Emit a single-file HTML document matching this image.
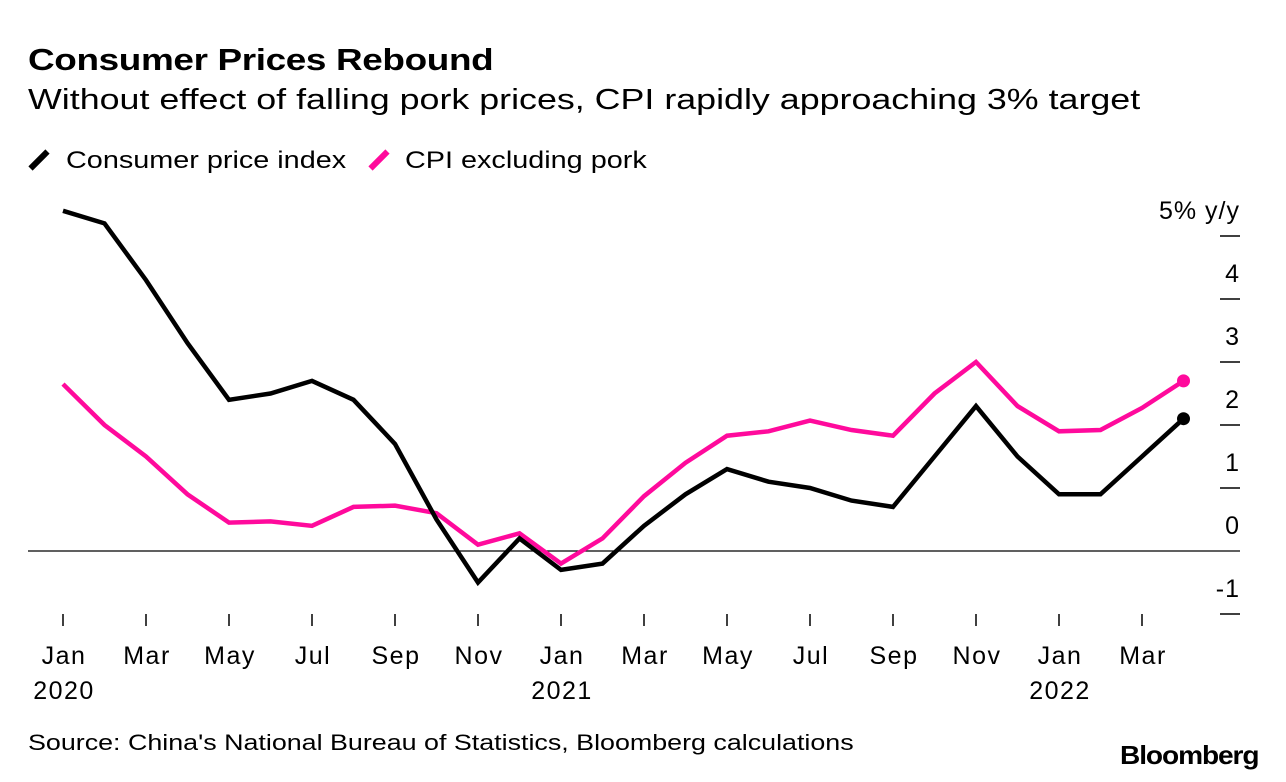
<!DOCTYPE html>
<html><head><meta charset="utf-8"><style>
html,body{margin:0;padding:0;background:#fff;}
body{width:1286px;height:782px;overflow:hidden;font-family:"Liberation Sans",sans-serif;color:#000;position:relative;}
.t{position:absolute;white-space:nowrap;transform-origin:0 0;}
</style></head><body>
<div class="t" style="left:28px;top:42px;font-size:31px;font-weight:bold;letter-spacing:-0.3px;transform:scaleX(1.19)">Consumer Prices Rebound</div>
<div class="t" style="left:28px;top:84px;font-size:29px;transform:scaleX(1.235)">Without effect of falling pork prices, CPI rapidly approaching 3% target</div>
<div class="t" style="left:28px;top:147px;font-size:24px"><span style="display:inline-block;width:6px;height:24px;background:#000;transform:rotate(45deg);margin:0 0 -4px 8px"></span><span style="display:inline-block;margin-left:24px;transform:scaleX(1.2);transform-origin:0 0">Consumer price index</span></div>
<div class="t" style="left:368px;top:147px;font-size:24px"><span style="display:inline-block;width:6px;height:24px;background:#ff0a9c;transform:rotate(45deg);margin:0 0 -4px 8px"></span><span style="display:inline-block;margin-left:23px;transform:scaleX(1.2);transform-origin:0 0">CPI excluding pork</span></div>
<svg id="chart" width="1286" height="782" style="position:absolute;left:0;top:0"></svg>
<div class="t" style="left:28px;top:730px;font-size:22px;transform:scaleX(1.22)">Source: China's National Bureau of Statistics, Bloomberg calculations</div>
<div class="t" style="left:1120px;top:740px;font-size:26px;font-weight:bold;letter-spacing:-1px;transform:scaleX(1.08)">Bloomberg</div>
<script>
const cpi=[5.4,5.2,4.3,3.3,2.4,2.5,2.7,2.4,1.7,0.5,-0.5,0.2,-0.3,-0.2,0.4,0.9,1.3,1.1,1.0,0.8,0.7,1.5,2.3,1.5,0.9,0.9,1.5,2.1];
const exPork=[2.65,2.0,1.5,0.9,0.45,0.47,0.4,0.7,0.72,0.6,0.1,0.28,-0.2,0.2,0.87,1.4,1.83,1.9,2.07,1.92,1.83,2.5,3.0,2.3,1.9,1.92,2.27,2.7];
const yTicks=[-1,0,1,2,3,4,5];
const xLabels=["Jan","Mar","May","Jul","Sep","Nov","Jan","Mar","May","Jul","Sep","Nov","Jan","Mar"];
const years=[["2020",0],["2021",12],["2022",24]];
const NS="http://www.w3.org/2000/svg";
const svg=document.getElementById("chart");
const X=i=>63+i*41.5;
const Y=v=>551-v*63;
const FONT="Liberation Sans, sans-serif";
function mk(tag,attrs,text){const e=document.createElementNS(NS,tag);for(const k in attrs)e.setAttribute(k,attrs[k]);if(text!=null)e.textContent=text;svg.appendChild(e);return e;}
yTicks.forEach(v=>{
 if(v===0){const l=mk("line",{x1:28,x2:1240,y1:Y(0),y2:Y(0),stroke:"#000","stroke-width":1.2});
 
 }
 else{const l=mk("line",{x1:1220,x2:1240,y1:Y(v),y2:Y(v),stroke:"#000","stroke-width":1.5});
 
 }
 const t=mk("text",{x:1240,y:Y(v)-17,"text-anchor":"end","font-size":25,"letter-spacing":1,"font-family":FONT},v===5?"5% y/y":String(v));
 
 
});
xLabels.forEach((s,k)=>{
 const i=k*2;
 const l=mk("line",{x1:X(i),x2:X(i),y1:614,y2:626,stroke:"#000","stroke-width":1.5});
 
 
 const t=mk("text",{x:X(i)+1,y:664,"text-anchor":"middle","font-size":25,"letter-spacing":1.5,"font-family":FONT},s);
 
 
});
years.forEach(([s,i])=>{
 const t=mk("text",{x:X(i)+1,y:699,"text-anchor":"middle","font-size":25,"letter-spacing":1.5,"font-family":FONT},s);
 
 
});
function series(arr,color,name){
 const p=mk("polyline",{points:arr.map((v,i)=>X(i)+","+Y(v)).join(" "),fill:"none",stroke:color,"stroke-width":4.5,"stroke-linejoin":"miter"});
 
 
 const n=arr.length-1;
 const c=mk("circle",{cx:X(n),cy:Y(arr[n]),r:6.5,fill:color});
 
 
}
series(exPork,"#ff0a9c","cpi-ex-pork");
series(cpi,"#000","cpi");
</script>
</body></html>
